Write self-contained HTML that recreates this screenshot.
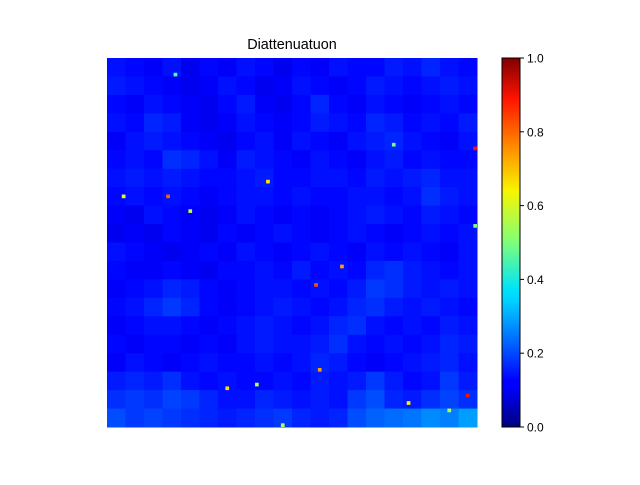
<!DOCTYPE html>
<html><head><meta charset="utf-8"><style>
body{margin:0;background:#fff;width:640px;height:480px;overflow:hidden;font-family:"Liberation Sans",sans-serif}
</style></head><body>
<svg id="fig" width="640" height="480" xmlns="http://www.w3.org/2000/svg">
<defs><linearGradient id="jet" x1="0" y1="1" x2="0" y2="0">
<stop offset="0" stop-color="#00007f"/><stop offset="0.11" stop-color="#0000ff"/>
<stop offset="0.125" stop-color="#0000ff"/><stop offset="0.34" stop-color="#00d0ff"/>
<stop offset="0.375" stop-color="#00e4f8"/><stop offset="0.5" stop-color="#7dff7a"/>
<stop offset="0.64" stop-color="#f8f500"/><stop offset="0.75" stop-color="#ff9400"/>
<stop offset="0.89" stop-color="#ff1300"/><stop offset="1" stop-color="#7f0000"/>
</linearGradient></defs>
<text x="292" y="49" font-size="14.4" text-anchor="middle" fill="#000">Diattenuatuon</text>
<g id="heat"></g>
<rect x="502" y="58" width="18" height="369" fill="url(#jet)" stroke="#000" stroke-width="1"/>
<g id="cbticks"></g>
</svg>
<script>
const gridRows = [
[0.14,0.13,0.12,0.14,0.11,0.13,0.12,0.14,0.13,0.11,0.13,0.12,0.14,0.13,0.13,0.15,0.14,0.16,0.14,0.13],
[0.15,0.14,0.13,0.12,0.11,0.12,0.14,0.13,0.11,0.12,0.14,0.13,0.12,0.13,0.15,0.14,0.13,0.14,0.15,0.14],
[0.13,0.12,0.14,0.13,0.12,0.11,0.13,0.15,0.12,0.11,0.13,0.16,0.13,0.12,0.14,0.13,0.12,0.13,0.14,0.13],
[0.14,0.13,0.16,0.15,0.12,0.11,0.12,0.14,0.13,0.12,0.13,0.15,0.14,0.13,0.16,0.15,0.13,0.14,0.13,0.15],
[0.12,0.14,0.15,0.14,0.13,0.12,0.11,0.13,0.14,0.12,0.14,0.13,0.12,0.14,0.15,0.16,0.14,0.13,0.12,0.14],
[0.13,0.14,0.13,0.17,0.16,0.14,0.12,0.15,0.14,0.13,0.12,0.14,0.13,0.12,0.14,0.15,0.13,0.14,0.13,0.13],
[0.14,0.15,0.14,0.15,0.14,0.13,0.13,0.14,0.15,0.13,0.13,0.14,0.14,0.13,0.15,0.14,0.15,0.16,0.14,0.14],
[0.13,0.14,0.13,0.14,0.13,0.12,0.13,0.14,0.14,0.13,0.14,0.13,0.13,0.14,0.14,0.13,0.14,0.17,0.15,0.14],
[0.12,0.11,0.14,0.13,0.12,0.11,0.12,0.14,0.13,0.12,0.13,0.12,0.13,0.14,0.15,0.14,0.13,0.15,0.14,0.13],
[0.11,0.12,0.11,0.13,0.12,0.11,0.13,0.12,0.13,0.14,0.13,0.12,0.13,0.14,0.13,0.12,0.13,0.14,0.13,0.14],
[0.14,0.13,0.12,0.11,0.12,0.13,0.12,0.14,0.13,0.12,0.13,0.14,0.13,0.12,0.14,0.13,0.14,0.13,0.12,0.14],
[0.13,0.12,0.12,0.13,0.12,0.11,0.13,0.13,0.14,0.13,0.15,0.13,0.14,0.13,0.16,0.17,0.15,0.14,0.13,0.14],
[0.12,0.13,0.14,0.16,0.15,0.13,0.12,0.13,0.14,0.14,0.13,0.14,0.13,0.15,0.18,0.17,0.15,0.14,0.15,0.14],
[0.13,0.14,0.16,0.18,0.16,0.13,0.12,0.13,0.14,0.15,0.14,0.13,0.14,0.16,0.17,0.15,0.14,0.15,0.14,0.13],
[0.12,0.13,0.14,0.14,0.13,0.12,0.13,0.14,0.15,0.14,0.13,0.14,0.16,0.17,0.14,0.13,0.14,0.13,0.15,0.14],
[0.13,0.12,0.13,0.13,0.12,0.13,0.12,0.14,0.15,0.14,0.14,0.15,0.17,0.14,0.13,0.14,0.13,0.14,0.16,0.15],
[0.12,0.14,0.13,0.12,0.13,0.14,0.13,0.13,0.14,0.13,0.14,0.16,0.15,0.13,0.12,0.13,0.14,0.15,0.16,0.14],
[0.15,0.16,0.15,0.17,0.14,0.13,0.14,0.13,0.13,0.14,0.13,0.15,0.14,0.15,0.18,0.15,0.13,0.14,0.18,0.15],
[0.17,0.18,0.17,0.19,0.18,0.16,0.14,0.14,0.16,0.15,0.14,0.15,0.14,0.18,0.20,0.16,0.15,0.17,0.19,0.17],
[0.20,0.18,0.19,0.18,0.17,0.16,0.15,0.16,0.17,0.18,0.16,0.15,0.16,0.20,0.22,0.23,0.24,0.26,0.25,0.28]
];
// hot spots on a 100x100 grid: row, col, value
const spotRows = [24,37,33,37,41,61,56,84,89,91,93,4,23,45,88,95,99];
const spotCols = [99,16,43,4,22,56,63,57,32,97,81,18,77,99,40,92,47];
const spotVals = [0.86,0.78,0.65,0.6,0.55,0.8,0.72,0.72,0.66,0.86,0.64,0.45,0.48,0.5,0.55,0.55,0.55];
const cbTickVals = [0,0.2,0.4,0.6,0.8,1.0];
const cbTickLabels = ["0.0","0.2","0.4","0.6","0.8","1.0"];

const X0=107,Y0=58,W=370,H=369;
function jet(v){
  v=Math.max(0,Math.min(1,v));
  const f=x=>Math.round(255*Math.max(0,Math.min(1,x)));
  const r=f(Math.min(4*v-1.5,-4*v+4.5)), g=f(Math.min(4*v-0.5,-4*v+3.5)), b=f(Math.min(4*v+0.5,-4*v+2.5));
  return `rgb(${r},${g},${b})`;
}
const NS="http://www.w3.org/2000/svg";
const heat=document.getElementById('heat');
const nr=gridRows.length,nc=gridRows[0].length;
const xScale=c=>X0+c*W/nc, yScale=r=>Y0+r*H/nr;
gridRows.forEach((row,r)=>row.forEach((v,c)=>{
  const el=document.createElementNS(NS,'rect');
  
  
  el.setAttribute('x',xScale(c));el.setAttribute('y',yScale(r));
  el.setAttribute('width',W/nc+0.5);el.setAttribute('height',H/nr+0.5);
  el.setAttribute('fill',jet(v));heat.appendChild(el);
}));
spotVals.forEach((v,i)=>{
  const el=document.createElementNS(NS,'rect');
  
  
  el.setAttribute('x',X0+spotCols[i]*W/100);el.setAttribute('y',Y0+spotRows[i]*H/100);
  el.setAttribute('width',W/100);el.setAttribute('height',H/100);
  el.setAttribute('fill',jet(v));heat.appendChild(el);
});
const cb=document.getElementById('cbticks');
cbTickVals.forEach((v,i)=>{
  const y=427-v*369;
  const t=document.createElementNS(NS,'line');
  
  
  t.setAttribute('x1',520);t.setAttribute('x2',524);t.setAttribute('y1',y);t.setAttribute('y2',y);
  t.setAttribute('stroke','#000');cb.appendChild(t);
  const l=document.createElementNS(NS,'text');
  
  
  l.setAttribute('x',527);l.setAttribute('y',y+4.5);l.setAttribute('font-size','12');
  l.textContent=cbTickLabels[i];cb.appendChild(l);
});
</script>
</body></html>
